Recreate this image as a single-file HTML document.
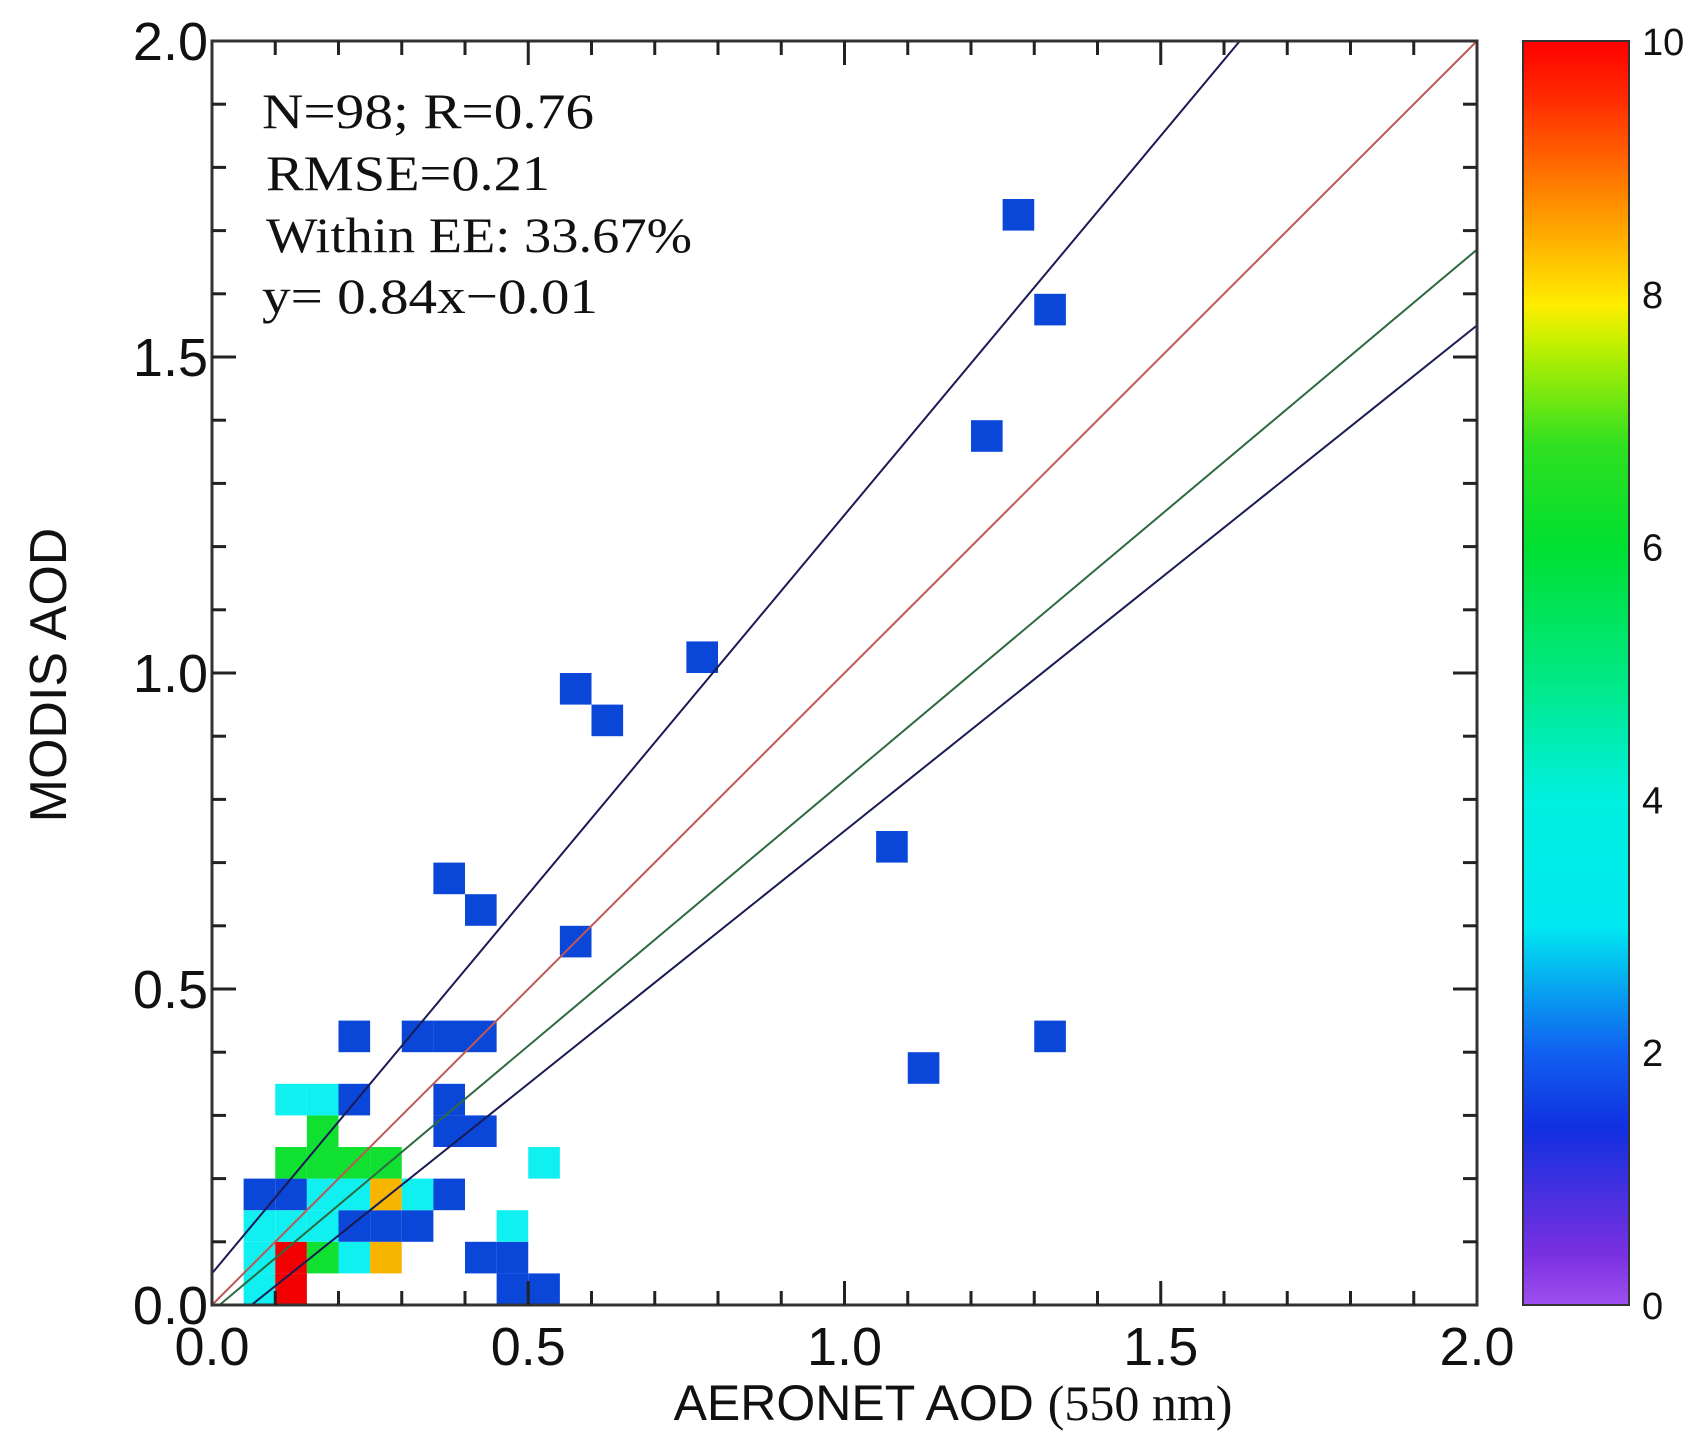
<!DOCTYPE html>
<html><head><meta charset="utf-8"><style>
html,body{margin:0;padding:0;background:#fff;}
svg{display:block;}
</style></head><body>
<svg id="chart" width="1708" height="1443" xmlns="http://www.w3.org/2000/svg">
<defs>
<linearGradient id="cbgrad" x1="0" y1="1" x2="0" y2="0">
<stop offset="0" stop-color="#a050f0"/>
<stop offset="0.04" stop-color="#7a30e0"/>
<stop offset="0.14" stop-color="#1030e0"/>
<stop offset="0.20" stop-color="#1060f0"/>
<stop offset="0.30" stop-color="#00e8f0"/>
<stop offset="0.40" stop-color="#00f0e0"/>
<stop offset="0.50" stop-color="#00e880"/>
<stop offset="0.60" stop-color="#00e030"/>
<stop offset="0.68" stop-color="#30e020"/>
<stop offset="0.76" stop-color="#c0f000"/>
<stop offset="0.79" stop-color="#ffee00"/>
<stop offset="0.87" stop-color="#ff9000"/>
<stop offset="0.95" stop-color="#ff3000"/>
<stop offset="1" stop-color="#ff0000"/>
</linearGradient>
</defs>
<g id="cells"></g>
<g id="lines"></g>
<g id="axes"></g>
<g font-family="Liberation Serif, serif" font-size="50" fill="#111">
<text x="262" y="128" textLength="332" lengthAdjust="spacingAndGlyphs">N=98; R=0.76</text>
<text x="266" y="190" textLength="284" lengthAdjust="spacingAndGlyphs">RMSE=0.21</text>
<text x="266" y="252" textLength="426" lengthAdjust="spacingAndGlyphs">Within EE: 33.67%</text>
<text x="262" y="313" textLength="336" lengthAdjust="spacingAndGlyphs">y= 0.84x−0.01</text>
</g>
<text x="953" y="1420" text-anchor="middle" font-size="50" fill="#111"><tspan font-family="Liberation Sans, sans-serif">AERONET AOD </tspan><tspan font-family="Liberation Serif, serif">(550 nm)</tspan></text>
<text transform="translate(66,675) rotate(-90)" text-anchor="middle" font-family="Liberation Sans, sans-serif" font-size="52" fill="#111">MODIS AOD</text>
<rect x="1523" y="41" width="106" height="1264" fill="url(#cbgrad)" stroke="#333" stroke-width="2"/>
<g id="cbticks"></g>
</svg>
<script>
const NS='http://www.w3.org/2000/svg';
const X0=212,X1=1477,Y0=1305,Y1=41;
const xs=v=>X0+(X1-X0)*v/2, ys=v=>Y0-(Y0-Y1)*v/2;
const cellSize=0.05;
// cell lower-left corners (x, y) and count category colour
const cellX=[0.05,0.10,0.45,0.50, 0.05,0.10,0.15,0.20,0.25,0.40,0.45, 0.05,0.10,0.15,0.20,0.25,0.30,0.45, 0.05,0.10,0.15,0.20,0.25,0.30,0.35, 0.10,0.15,0.20,0.25,0.50, 0.15,0.35,0.40, 0.10,0.15,0.20,0.35, 0.20,0.30,0.35,0.40, 1.25,1.30,1.20,0.75,0.55,0.60,1.05,0.35,0.40,0.55,1.10,1.30];
const cellY=[0,0,0,0, 0.05,0.05,0.05,0.05,0.05,0.05,0.05, 0.10,0.10,0.10,0.10,0.10,0.10,0.10, 0.15,0.15,0.15,0.15,0.15,0.15,0.15, 0.20,0.20,0.20,0.20,0.20, 0.25,0.25,0.25, 0.30,0.30,0.30,0.30, 0.40,0.40,0.40,0.40, 1.70,1.55,1.35,1.00,0.95,0.90,0.70,0.65,0.60,0.55,0.35,0.40];
const cellC=['c','r','b','b', 'c','r','g','c','o','b','b', 'c','c','c','b','b','b','c', 'b','b','c','c','o','c','b', 'g','g','g','g','c', 'g','b','b', 'c','c','b','b', 'b','b','b','b', 'b','b','b','b','b','b','b','b','b','b','b','b'];
const palette={b:'#0a46d8',c:'#10f0f0',g:'#10e030',o:'#f7b500',r:'#f20000'};
const cells=document.getElementById('cells');
for(let i=0;i<cellX.length;i++){
  const r=document.createElementNS(NS,'rect');
  r.setAttribute('x',xs(cellX[i]));r.setAttribute('y',ys(cellY[i]+cellSize));
  r.setAttribute('width',xs(cellSize)-X0);r.setAttribute('height',Y0-ys(cellSize));
  r.setAttribute('fill',palette[cellC[i]]);
  
  
  cells.appendChild(r);
}
const lineSlopes=[1,1.2,0.8,0.84];
const lineIntercepts=[0,0.05,-0.05,-0.01];
const lineNames=['one-to-one-line','ee-upper-line','ee-lower-line','fit-line'];
const lineColors=['#c05858','#1a1a55','#1a1a55','#2e6a40'];
const lg=document.getElementById('lines');
for(let i=0;i<lineSlopes.length;i++){
  const m=lineSlopes[i],b=lineIntercepts[i];
  let xa=Math.max(0,-b/m), xb=Math.min(2,(2-b)/m);
  const l=document.createElementNS(NS,'line');
  l.setAttribute('x1',xs(xa));l.setAttribute('y1',ys(m*xa+b));
  l.setAttribute('x2',xs(xb));l.setAttribute('y2',ys(m*xb+b));
  l.setAttribute('stroke',lineColors[i]);l.setAttribute('stroke-width','2');
  
  
  lg.appendChild(l);
}
const ax=document.getElementById('axes');
function mk(tag,attrs){const e=document.createElementNS(NS,tag);for(const k in attrs)e.setAttribute(k,attrs[k]);ax.appendChild(e);return e;}
const frame=mk('rect',{x:X0,y:Y1,width:X1-X0,height:Y0-Y1,fill:'none',stroke:'#333','stroke-width':3});


for(let k=1;k<20;k++){
  const v=k*0.1, len=(k%5===0)?24:14;
  [[xs(v),Y0,xs(v),Y0-len],[xs(v),Y1,xs(v),Y1+len],[X0,ys(v),X0+len,ys(v)],[X1,ys(v),X1-len,ys(v)]].forEach(c=>{
    const t=mk('line',{x1:c[0],y1:c[1],x2:c[2],y2:c[3],stroke:'#222','stroke-width':3});
    
    
  });
}
const tickLabels=['0.0','0.5','1.0','1.5','2.0'];
const tickVals=[0,0.5,1,1.5,2];
for(let i=0;i<tickVals.length;i++){
  const tx=mk('text',{x:xs(tickVals[i]),y:Y0+60,'text-anchor':'middle','font-family':'Liberation Sans, sans-serif','font-size':54,fill:'#111'});
  tx.textContent=tickLabels[i];
  
  
  const ty=mk('text',{x:X0-4,y:ys(tickVals[i])+19,'text-anchor':'end','font-family':'Liberation Sans, sans-serif','font-size':54,fill:'#111'});
  ty.textContent=tickLabels[i];
  
  
}
const cbLabels=['0','2','4','6','8','10'];
const cbVals=[0,2,4,6,8,10];
const cb=document.getElementById('cbticks');
for(let i=0;i<cbVals.length;i++){
  const y=1305-1264*cbVals[i]/10;
  const t=document.createElementNS(NS,'text');
  t.setAttribute('x',1642);t.setAttribute('y',y+14);
  t.setAttribute('font-family','Liberation Sans, sans-serif');t.setAttribute('font-size',38);t.setAttribute('fill','#111');
  t.textContent=cbLabels[i];
  
  
  cb.appendChild(t);
}
</script>
</body></html>
